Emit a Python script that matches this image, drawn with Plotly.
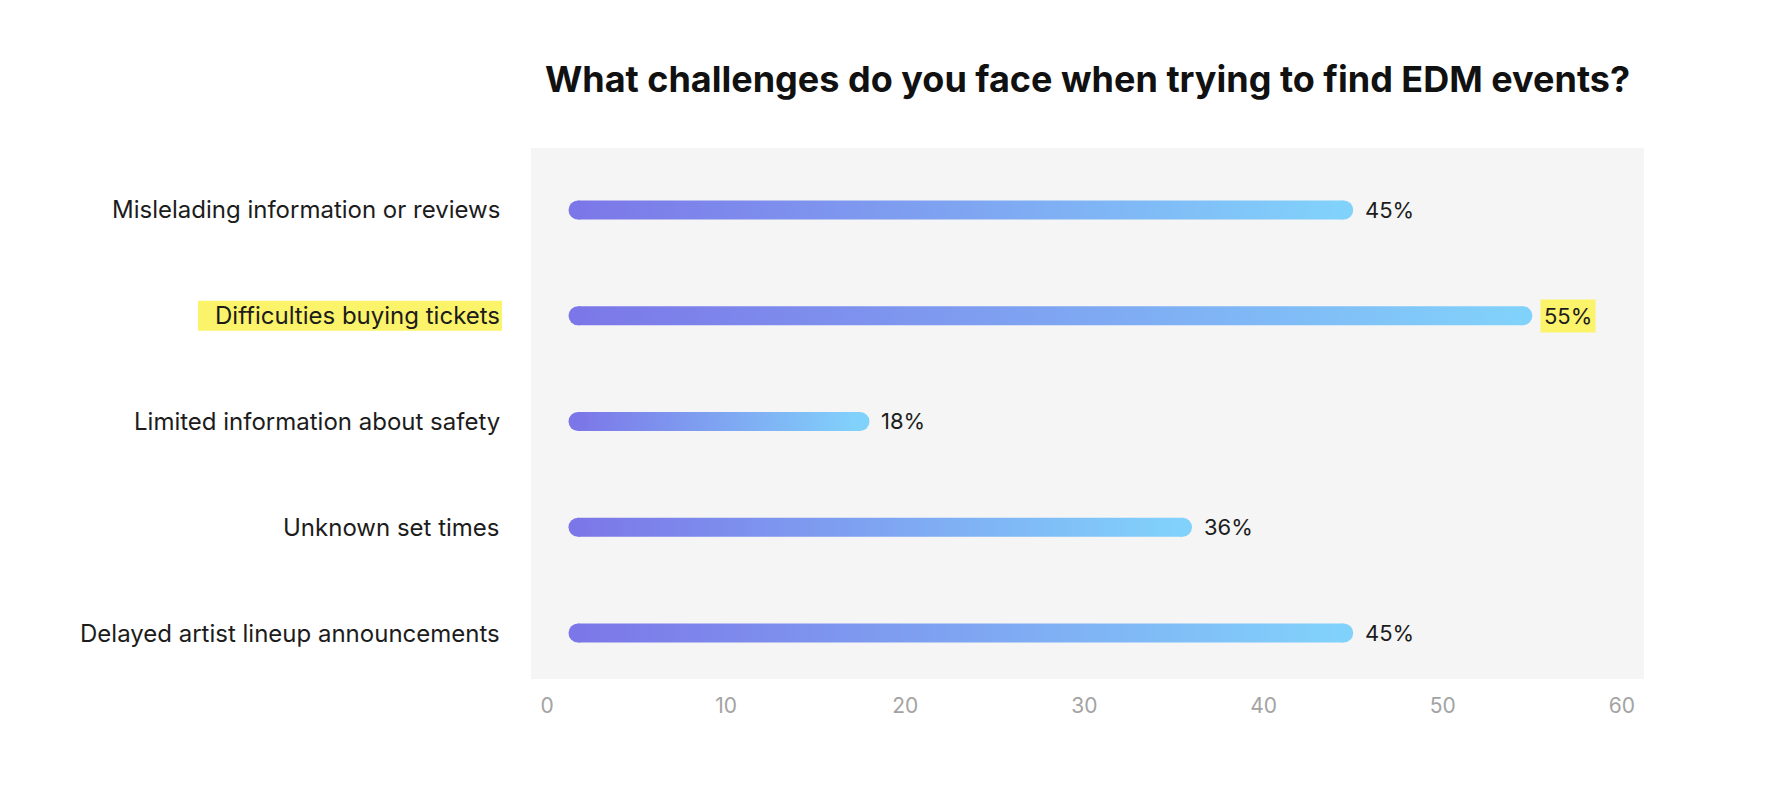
import plotly.graph_objects as go

categories = [
    "Mislelading information or reviews",
    "Difficulties buying tickets",
    "Limited information about safety",
    "Unknown set times",
    "Delayed artist lineup announcements",
]
values = [45, 55, 18, 36, 45]
highlighted = [False, True, False, False, False]
x_ticks = [0, 10, 20, 30, 40, 50, 60]

TITLE = "What challenges do you face when trying to find EDM events?"
C_LEFT = "#7C77E8"
C_RIGHT = "#81D2FB"
HILITE = "#FBF36A"
FONT = "Inter"

# style constants
W, H = 1780, 793
ML, MR, MT, MB = 523, 144, 140, 122
X_RANGE = [-0.893, 61.23]
Y_RANGE = [4.435, -0.586]
BAR_PX = 19
BAR_START = 1.2

px_per_unit = (W - ML - MR) / (X_RANGE[1] - X_RANGE[0])
py_per_unit = (H - MT - MB) / (Y_RANGE[0] - Y_RANGE[1])
r_units = (BAR_PX / 2) / px_per_unit
h_units = (BAR_PX / 2) / py_per_unit

fig = go.Figure()

for i, v in enumerate(values):
    x0 = BAR_START + r_units
    x1 = v - r_units
    fig.add_trace(go.Scatter(
        x=[x0, x1, x1, x0, x0],
        y=[i - h_units, i - h_units, i + h_units, i + h_units, i - h_units],
        mode="lines",
        line=dict(width=0, color="rgba(0,0,0,0)"),
        fill="toself",
        fillgradient=dict(type="horizontal",
                          colorscale=[[0, C_LEFT], [1, C_RIGHT]]),
        hoverinfo="skip",
        showlegend=False,
    ))
    fig.add_trace(go.Scatter(
        x=[x0, x1], y=[i, i],
        mode="markers",
        marker=dict(size=BAR_PX, color=[C_LEFT, C_RIGHT], line=dict(width=0)),
        hovertemplate=f"{categories[i]}: {v}%<extra></extra>",
        showlegend=False,
    ))

annotations = []
shapes = []
for i, (cat, v, hl) in enumerate(zip(categories, values, highlighted)):
    annotations.append(dict(
        x=0, xref="paper", y=i, yref="y",
        xanchor="right", yanchor="middle", xshift=-29,
        text=cat, showarrow=False,
        font=dict(family=FONT, size=24, color="#1c1c1c"),
    ))
    if hl:
        shapes.append(dict(
            type="rect", xref="paper", yref="y",
            xsizemode="pixel", ysizemode="pixel",
            xanchor=0, yanchor=i,
            x0=-333, x1=-29, y0=-15, y1=15,
            fillcolor=HILITE, line=dict(width=0), layer="below",
        ))
    annotations.append(dict(
        x=v, xref="x", y=i, yref="y",
        xanchor="left", yanchor="middle", xshift=8,
        text=f"{v}%", showarrow=False,
        bgcolor=HILITE if hl else "rgba(0,0,0,0)", borderpad=3,
        font=dict(family=FONT, size=22, color="#1c1c1c"),
    ))

fig.update_layout(
    width=W, height=H,
    margin=dict(l=ML, r=MR, t=MT, b=MB),
    paper_bgcolor="white",
    plot_bgcolor="#F5F5F5",
    title=dict(text=f"<b>{TITLE}</b>", x=0.5, xref="paper", xanchor="center",
               y=1 - 71 / H, yref="container", yanchor="middle",
               font=dict(family=FONT, size=36, color="#111111")),
    xaxis=dict(range=X_RANGE, tickvals=x_ticks, showgrid=False, zeroline=False,
               showline=False, ticks="outside", ticklen=8, tickcolor="rgba(0,0,0,0)",
               tickfont=dict(family=FONT, size=21, color="#A3A3A3"),
               fixedrange=True),
    yaxis=dict(range=Y_RANGE, showticklabels=False, showgrid=False, zeroline=False,
               showline=False, fixedrange=True),
    annotations=annotations,
    shapes=shapes,
)

fig.write_html("out.html")
